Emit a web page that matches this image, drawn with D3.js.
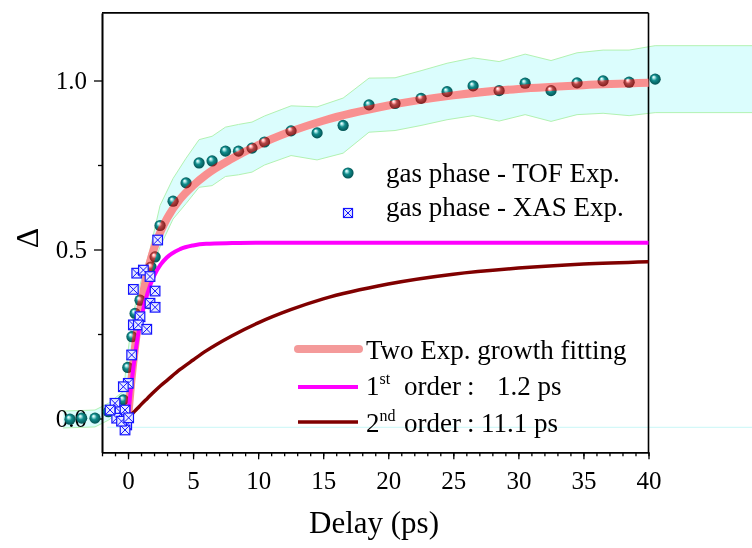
<!DOCTYPE html>
<html><head><meta charset="utf-8">
<script src="https://cdn.jsdelivr.net/npm/d3@7"></script>
<style>
html,body{margin:0;padding:0;background:#fff;}
svg{display:block;font-family:"Liberation Serif","Times New Roman",serif;}
</style></head>
<body><svg id="chart" width="752" height="548"></svg>
<script>
// ---------- data ----------
const tofT = [-4.46, -3.56, -2.54, -1.51, -0.36, -0.02, 0.30, 0.54, 0.92, 1.56, 1.77, 2.08, 2.46, 3.46, 4.46, 5.46, 6.46, 7.49, 8.49, 9.53, 10.49, 12.53, 14.53, 16.53, 18.52, 20.52, 22.52, 24.52, 26.52, 28.52, 30.52, 32.51, 34.51, 36.51, 38.51, 40.51];
const tofV = [-0.002, 0.001, 0.001, 0.020, 0.055, 0.151, 0.242, 0.311, 0.350, 0.340, 0.448, 0.478, 0.571, 0.643, 0.697, 0.756, 0.762, 0.791, 0.791, 0.800, 0.818, 0.851, 0.845, 0.867, 0.928, 0.932, 0.947, 0.967, 0.984, 0.970, 0.992, 0.970, 0.993, 0.999, 0.995, 1.004];

const xasT = [2.28, 0.67, 1.18, 1.69, 0.41, 2.08, 1.69, 2.08, 0.92, 0.41, 0.79, 1.44, 0.28, 0.02, -0.36, -1.00, -0.61, -0.23, -0.87, -0.10, -0.23, -1.38, -0.50, 0.05];
const xasV = [0.528, 0.430, 0.439, 0.420, 0.382, 0.377, 0.341, 0.329, 0.301, 0.277, 0.277, 0.264, 0.188, 0.104, 0.094, 0.045, 0.020, 0.025, 0.001, -0.019, -0.034, 0.025, -0.008, 0.002];

const bandT = [-5.0, -2.54, -1.51, -0.36, 0, 0.38, 0.92, 1.69, 2.46, 3.46, 4.46, 5.46, 6.46, 7.49, 8.49, 9.53, 10.49, 12.53, 14.53, 16.53, 18.52, 20.52, 22.52, 24.52, 26.52, 28.52, 30.52, 32.51, 34.51, 36.51, 38.51, 40.51, 48];
const bandUpper = [0.022, 0.025, 0.045, 0.080, 0.200, 0.306, 0.395, 0.500, 0.630, 0.710, 0.770, 0.825, 0.835, 0.862, 0.870, 0.877, 0.895, 0.925, 0.922, 0.948, 1.007, 1.008, 1.029, 1.051, 1.067, 1.056, 1.078, 1.059, 1.082, 1.090, 1.090, 1.103, 1.103];
const bandLower = [-0.028, -0.025, -0.005, 0.030, 0.100, 0.180, 0.300, 0.425, 0.508, 0.590, 0.636, 0.684, 0.689, 0.716, 0.721, 0.729, 0.750, 0.778, 0.765, 0.785, 0.847, 0.852, 0.867, 0.884, 0.896, 0.880, 0.899, 0.879, 0.899, 0.903, 0.896, 0.905, 0.905];

const refLineT = [-1.6, 48];
const refLineV = [-0.026, -0.026];

const curveT  = [0, 0.25, 0.5, 0.75, 1, 1.5, 2, 2.5, 3, 4, 5, 6, 8, 10, 12.5, 15, 20, 25, 30, 35, 40];
const fitV    = [0, 0.109, 0.199, 0.274, 0.336, 0.433, 0.503, 0.553, 0.592, 0.649, 0.689, 0.721, 0.769, 0.809, 0.849, 0.881, 0.926, 0.956, 0.975, 0.986, 0.993];
const firstV  = [0, 0.098, 0.177, 0.242, 0.294, 0.371, 0.422, 0.455, 0.477, 0.501, 0.512, 0.517, 0.519, 0.520, 0.520, 0.520, 0.520, 0.520, 0.520, 0.520, 0.520];
const secondV = [0, 0.011, 0.021, 0.031, 0.041, 0.060, 0.079, 0.097, 0.113, 0.145, 0.173, 0.200, 0.245, 0.283, 0.322, 0.354, 0.398, 0.427, 0.445, 0.457, 0.464];

const xTicks = [0, 5, 10, 15, 20, 25, 30, 35, 40];
const xMinor = d3.range(-2, 41, 1);
const yTicks = [0, 0.5, 1.0];
const yTickLabels = ["0.0", "0.5", "1.0"];
const yMinor = [0.25, 0.75];

const legendTop = ["gas phase - TOF Exp.", "gas phase - XAS Exp."];
const legendFit = "Two Exp. growth fitting";
const firstLabel = ["1", "st", "order", ":", "1.2 ps"];
const secondLabel = ["2", "nd", "order", ":", "11.1 ps"];

// ---------- scales ----------
const svg = d3.select("#chart");
const x = d3.scaleLinear().domain([-2, 40]).range([102, 648.5]);
const y = d3.scaleLinear().domain([-0.1, 1.2]).range([452.3, 12.9]);

// ---------- defs ----------
const defs = svg.append("defs");
const g1 = defs.append("radialGradient").attr("id", "sphere")
  .attr("cx", "50%").attr("cy", "50%").attr("r", "55%").attr("fx", "35%").attr("fy", "30%");
g1.append("stop").attr("offset", "0%").attr("stop-color", "#ffffff");
g1.append("stop").attr("offset", "18%").attr("stop-color", "#a8e6e6");
g1.append("stop").attr("offset", "45%").attr("stop-color", "#118c8c");
g1.append("stop").attr("offset", "100%").attr("stop-color", "#004a4a");

// ---------- band ----------
const band = bandT.map((t, i) => ({t, lo: bandLower[i], hi: bandUpper[i]}));
svg.append("path").datum(band)
  .attr("d", d3.area().x(d => x(d.t)).y0(d => y(d.lo)).y1(d => y(d.hi)))
  .attr("fill", "#dbfdfd");
["hi", "lo"].forEach(k => {
  svg.append("path").datum(band)
    .attr("d", d3.line().x(d => x(d.t)).y(d => y(d[k])))
    .attr("fill", "none").attr("stroke", "#b2f2b2").attr("stroke-width", 1);
});
svg.append("path").datum(refLineT.map((t, i) => ({t, v: refLineV[i]})))
  .attr("d", d3.line().x(d => x(d.t)).y(d => y(d.v)))
  .attr("stroke", "#c9f7f7").attr("stroke-width", 1).attr("fill", "none");

// ---------- axes ----------
const axisG = svg.append("g");
axisG.append("g").attr("transform", `translate(0,${y(-0.1)})`)
  .call(d3.axisBottom(x).tickValues(xTicks).tickFormat(d3.format("d")).tickSize(7).tickPadding(12).tickSizeOuter(0));
axisG.append("g").attr("transform", `translate(0,${y(-0.1)})`)
  .call(d3.axisBottom(x).tickValues(xMinor).tickFormat("").tickSize(4).tickSizeOuter(0));
axisG.append("g").attr("transform", `translate(${x(-2)},0)`)
  .call(d3.axisLeft(y).tickValues(yTicks).tickFormat((d, i) => yTickLabels[i]).tickSize(8).tickPadding(7).tickSizeOuter(0));
axisG.append("g").attr("transform", `translate(${x(-2)},0)`)
  .call(d3.axisLeft(y).tickValues(yMinor).tickFormat("").tickSize(4).tickSizeOuter(0));
axisG.selectAll("path.domain").attr("stroke", "#000").attr("stroke-width", 1.6);
axisG.selectAll(".tick line").attr("stroke", "#000").attr("stroke-width", 1.3);
axisG.selectAll("text").attr("font-family", "Liberation Serif").attr("font-size", 25).attr("fill", "#000");
// frame top/right
axisG.append("line").attr("x1", x(-2)).attr("x2", x(40)).attr("y1", y(1.2)).attr("y2", y(1.2)).attr("stroke", "#000").attr("stroke-width", 1.6);
axisG.append("line").attr("x1", x(40)).attr("x2", x(40)).attr("y1", y(1.2)).attr("y2", y(-0.1)).attr("stroke", "#000").attr("stroke-width", 1.6);

// axis titles
svg.append("text").attr("x", 374).attr("y", 533).attr("text-anchor", "middle")
  .attr("font-size", 31).text("Delay (ps)");
svg.append("text").attr("transform", "translate(38,238) rotate(-90)").attr("text-anchor", "middle")
  .attr("font-size", 32).text("Δ");

// ---------- curves ----------
const line = d3.line().x(d => x(d.t)).y(d => y(d.v)).curve(d3.curveMonotoneX);
const fitData = curveT.map((t, i) => ({t, v: fitV[i]}));
svg.append("path").datum(fitData).attr("d", line).attr("fill", "none")
  .attr("stroke", "#ec9595").attr("stroke-width", 8);

// TOF spheres
svg.append("g").selectAll("circle").data(tofT.map((t, i) => ({t, v: tofV[i]})))
  .join("circle").attr("cx", d => x(d.t)).attr("cy", d => y(d.v)).attr("r", 5.6)
  .attr("fill", "url(#sphere)");

// tint overlay of the fit line over spheres
svg.append("path").datum(fitData).attr("d", line).attr("fill", "none")
  .attr("stroke", "#e88080").attr("stroke-width", 8).style("mix-blend-mode", "color");

svg.append("path").datum(curveT.map((t, i) => ({t, v: firstV[i]}))).attr("d", line)
  .attr("fill", "none").attr("stroke", "#ff00ff").attr("stroke-width", 4);
svg.append("path").datum(curveT.map((t, i) => ({t, v: secondV[i]}))).attr("d", line)
  .attr("fill", "none").attr("stroke", "#800000").attr("stroke-width", 3.5);

// XAS squares
function xasMarker(sel, s) {
  sel.append("rect").attr("x", -s).attr("y", -s).attr("width", 2 * s).attr("height", 2 * s)
    .attr("fill", "#e6eaff").attr("stroke", "#1414ff").attr("stroke-width", 1.2);
  sel.append("path").attr("d", `M${-s},${-s}L${s},${s}M${s},${-s}L${-s},${s}`)
    .attr("stroke", "#1414ff").attr("stroke-width", 1);
}
svg.append("g").selectAll("g").data(xasT.map((t, i) => ({t, v: xasV[i]})))
  .join("g").attr("transform", d => `translate(${x(d.t)},${y(d.v)})`)
  .each(function() { xasMarker(d3.select(this), 4.8); });

// ---------- legends ----------
const LF = 27;
svg.append("circle").attr("cx", 348).attr("cy", 173).attr("r", 5.6).attr("fill", "url(#sphere)");
svg.append("text").attr("x", 386).attr("y", 182).attr("font-size", LF).text(legendTop[0]);
xasMarker(svg.append("g").attr("transform", "translate(348,213)"), 4.5);
svg.append("text").attr("x", 386).attr("y", 216).attr("font-size", LF).text(legendTop[1]);

svg.append("line").attr("x1", 298).attr("x2", 359).attr("y1", 349).attr("y2", 349)
  .attr("stroke", "#f49a9a").attr("stroke-width", 8).attr("stroke-linecap", "round");
svg.append("text").attr("x", 366).attr("y", 359).attr("font-size", LF).text(legendFit);

svg.append("line").attr("x1", 298).attr("x2", 358).attr("y1", 387).attr("y2", 387)
  .attr("stroke", "#ff00ff").attr("stroke-width", 4);
const t1 = svg.append("text").attr("x", 366).attr("y", 395).attr("font-size", LF);
t1.append("tspan").text(firstLabel[0]);
t1.append("tspan").attr("font-size", 16).attr("dy", -11).text(firstLabel[1]);
t1.append("tspan").attr("x", 404).attr("dy", 11).text(firstLabel[2]);
t1.append("tspan").attr("x", 467).text(firstLabel[3]);
t1.append("tspan").attr("x", 497).text(firstLabel[4]);

svg.append("line").attr("x1", 298).attr("x2", 358).attr("y1", 422).attr("y2", 422)
  .attr("stroke", "#800000").attr("stroke-width", 3.5);
const t2 = svg.append("text").attr("x", 366).attr("y", 432).attr("font-size", LF);
t2.append("tspan").text(secondLabel[0]);
t2.append("tspan").attr("font-size", 16).attr("dy", -11).text(secondLabel[1]);
t2.append("tspan").attr("x", 404).attr("dy", 11).text(secondLabel[2]);
t2.append("tspan").attr("x", 467).text(secondLabel[3]);
t2.append("tspan").attr("x", 481).text(secondLabel[4]);
</script>
</body></html>
